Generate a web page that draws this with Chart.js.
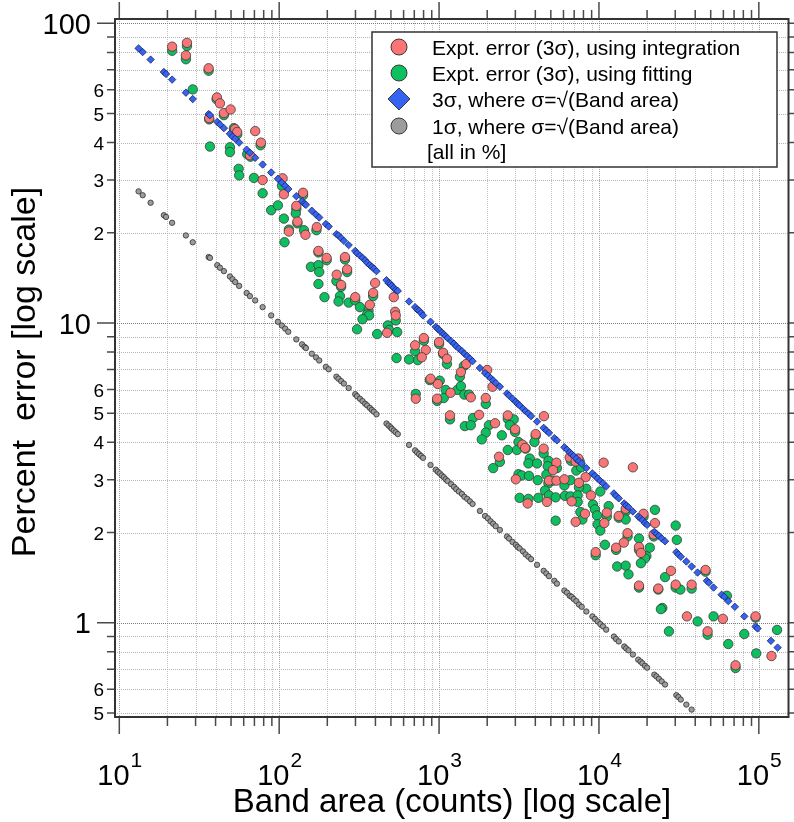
<!DOCTYPE html>
<html lang="en">
<head>
<meta charset="UTF-8">
<title>Percent error vs band area</title>
<script src="https://cdn.jsdelivr.net/npm/chart.js"></script>
<style>
    html, body { margin: 0; padding: 0; background: #fff; }
    #wrap { width: 794px; height: 822px; }
</style>
</head>
<body>
<div id="wrap"><canvas id="errChart" width="794" height="822"></canvas></div>
<script>
// band areas (counts) and the pure counting-statistics error at each one
const bandArea = [
    13.2, 14.0, 15.7, 19.0, 19.6, 21.4, 26.1, 28.8, 36.2, 36.9,
    41.0, 42.6, 45.1, 49.2, 51.1, 53.1, 56.2, 62.6, 65.6, 70.8,
    78.8, 89.1, 98.2, 104, 109, 114, 128, 139, 144, 147,
    160, 170, 178, 196, 204, 228, 235, 244, 254, 272,
    299, 307, 320, 332, 345, 355, 369, 380, 391, 406,
    469, 483, 497, 506, 521, 536, 552, 649, 708, 729,
    750, 772, 794, 884, 954, 981, 1010, 1040, 1070, 1100,
    1130, 1190, 1240, 1280, 1330, 1390, 1440, 1500, 1560, 1620,
    1800, 1940, 2020, 2100, 2180, 2260, 2400, 2660, 2740, 2880,
    3020, 3100, 3190, 3350, 3480, 3620, 3760, 4100, 4510, 4690,
    4870, 5260, 5460, 6080, 6310, 6560, 6750, 6950, 7220, 7500,
    7800, 8340, 9100, 9440, 9820, 10200, 10600, 11100, 12400, 12800,
    13300, 14400, 14800, 15300, 16300, 17600, 18200, 18700, 19400, 20000,
    22200, 22900, 23700, 24700, 25900, 30500, 31400, 32500, 35200, 38000,
    41400, 47300, 48700, 52100, 58500, 60800, 64400, 70800, 81100, 95400,
    98200, 119000, 131000
];
const sigma3Pct = [
    82.5, 80.2, 75.7, 68.8, 67.8, 64.9, 58.7, 55.9, 49.8, 49.4,
    46.9, 46.0, 44.7, 42.8, 41.9, 41.2, 40.0, 37.9, 37.0, 35.6,
    33.8, 31.8, 30.3, 29.4, 28.7, 28.0, 26.5, 25.5, 25.0, 24.8,
    23.7, 23.0, 22.5, 21.4, 21.0, 19.8, 19.6, 19.2, 18.8, 18.2,
    17.4, 17.1, 16.8, 16.5, 16.2, 15.9, 15.6, 15.4, 15.2, 14.9,
    13.9, 13.6, 13.5, 13.3, 13.1, 12.9, 12.8, 11.8, 11.3, 11.1,
    11.0, 10.8, 10.6, 10.1, 9.71, 9.57, 9.44, 9.30, 9.17, 9.04,
    8.91, 8.70, 8.53, 8.37, 8.22, 8.06, 7.90, 7.76, 7.61, 7.46,
    7.08, 6.81, 6.68, 6.55, 6.43, 6.31, 6.13, 5.82, 5.73, 5.59,
    5.46, 5.38, 5.31, 5.18, 5.08, 4.99, 4.89, 4.69, 4.47, 4.38,
    4.30, 4.13, 4.06, 3.85, 3.78, 3.70, 3.65, 3.60, 3.53, 3.46,
    3.40, 3.28, 3.15, 3.09, 3.03, 2.97, 2.92, 2.85, 2.70, 2.65,
    2.60, 2.50, 2.46, 2.43, 2.35, 2.26, 2.23, 2.20, 2.15, 2.12,
    2.01, 1.98, 1.95, 1.91, 1.87, 1.72, 1.69, 1.66, 1.60, 1.54,
    1.47, 1.38, 1.36, 1.31, 1.24, 1.22, 1.18, 1.13, 1.05, 0.971,
    0.957, 0.870, 0.826
];
const sigma1Pct = [
    27.5, 26.7, 25.2, 22.9, 22.6, 21.6, 19.6, 18.6, 16.6, 16.5,
    15.6, 15.3, 14.9, 14.3, 14.0, 13.7, 13.3, 12.6, 12.3, 11.9,
    11.3, 10.6, 10.1, 9.81, 9.58, 9.35, 8.82, 8.49, 8.33, 8.25,
    7.90, 7.68, 7.50, 7.14, 7.01, 6.62, 6.52, 6.40, 6.28, 6.07,
    5.79, 5.70, 5.59, 5.49, 5.38, 5.31, 5.21, 5.13, 5.06, 4.96,
    4.62, 4.55, 4.49, 4.44, 4.38, 4.32, 4.26, 3.92, 3.76, 3.70,
    3.65, 3.60, 3.55, 3.36, 3.24, 3.19, 3.15, 3.10, 3.06, 3.01,
    2.97, 2.90, 2.84, 2.79, 2.74, 2.69, 2.63, 2.59, 2.54, 2.49,
    2.36, 2.27, 2.23, 2.18, 2.14, 2.10, 2.04, 1.94, 1.91, 1.86,
    1.82, 1.79, 1.77, 1.73, 1.69, 1.66, 1.63, 1.56, 1.49, 1.46,
    1.43, 1.38, 1.35, 1.28, 1.26, 1.23, 1.22, 1.20, 1.18, 1.15,
    1.13, 1.09, 1.05, 1.03, 1.01, 0.990, 0.972, 0.948, 0.899, 0.882,
    0.866, 0.833, 0.821, 0.809, 0.783, 0.753, 0.742, 0.732, 0.718, 0.708,
    0.671, 0.662, 0.650, 0.637, 0.622, 0.573, 0.565, 0.554, 0.533, 0.513,
    null, null, null, null, null, null, null, null, null, null,
    null, null, null
];

// measured 3-sigma errors, peak integration
const integArea = [
    21.4, 26.5, 26.1, 36.2, 40.8, 42.6, 45.1, 49.7, 36.5, 52.9,
    54.6, 70.8, 76.9, 65.6, 78.8, 105, 107, 141, 128, 130,
    115, 146, 172, 176, 198, 258, 266, 229, 244, 299,
    369, 387, 398, 521, 531, 536, 473, 803, 1000, 708,
    826, 780, 1060, 1120, 982, 715, 1480, 1370, 884, 972,
    1180, 1580, 2000, 2160, 1960, 1170, 1780, 2240, 2690, 2990,
    4530, 4020, 3320, 3450, 4510, 2370, 5420, 5160, 3020, 4870,
    5420, 6080, 6560, 7150, 7430, 8260, 7500, 3580, 4730, 6750,
    8910, 10700, 16300, 11200, 8180, 7150, 10800, 13300, 14700, 19000,
    15100, 14300, 12800, 9540, 17800, 18300, 22000, 28200, 17800, 23500,
    30200, 22400, 46400, 38000, 35500, 59600, 95400, 47800, 120000, 71500
];
const integPct = [
    83.6, 86.1, 78.2, 70.8, 56.6, 54.1, 50.2, 51.6, 48.3, 44.4,
    43.4, 43.7, 40.0, 36.3, 30.0, 30.4, 26.9, 27.2, 24.6, 21.8,
    20.2, 19.7, 20.9, 17.4, 16.5, 16.6, 15.1, 14.5, 13.4, 12.2,
    11.5, 12.6, 13.6, 12.2, 10.9, 10.6, 9.28, 8.91, 8.64, 8.43,
    8.13, 7.69, 7.96, 7.60, 6.26, 5.59, 7.30, 6.86, 6.52, 5.59,
    5.85, 5.65, 6.97, 6.13, 5.62, 4.92, 4.94, 4.63, 4.92, 4.42,
    4.89, 4.26, 3.93, 3.83, 3.81, 3.58, 3.42, 3.23, 3.01, 2.98,
    2.98, 3.01, 3.56, 3.45, 3.53, 3.06, 2.93, 2.50, 2.53, 2.54,
    2.66, 3.42, 3.30, 2.33, 2.31, 2.17, 2.15, 2.27, 2.40, 2.31,
    1.99, 1.85, 1.78, 1.72, 1.79, 1.71, 1.97, 1.49, 1.33, 1.30,
    1.34, 2.15, 1.50, 1.34, 1.05, 1.03, 1.05, 0.936, 0.774, 0.721
];

// measured 3-sigma errors, peak fitting
const fitArea = [
    21.4, 26.5, 26.1, 28.8, 36.2, 36.5, 36.9, 40.6, 45.1, 49.2,
    49.2, 55.8, 56.2, 52.1, 54.6, 63.1, 66.2, 69.5, 76.5, 78.8,
    89.1, 98.2, 104, 107, 108, 115, 128, 127, 130, 141,
    143, 171, 176, 198, 158, 176, 178, 176, 258, 266,
    228, 244, 192, 240, 235, 272, 299, 320, 362, 355,
    365, 332, 387, 307, 410, 536, 478, 487, 547, 803,
    1000, 542, 1060, 875, 1010, 1100, 715, 708, 736, 649,
    1120, 1430, 1350, 972, 1070, 1300, 1370, 1440, 1540, 1960,
    1170, 1630, 1450, 1580, 2050, 1960, 1850, 2470, 2690, 2930,
    2770, 2990, 4020, 3950, 3140, 3070, 3480, 4510, 2690, 2400,
    2180, 3690, 3620, 4100, 4830, 4780, 5460, 3140, 3290, 3650,
    4140, 4830, 4600, 4870, 3190, 3620, 4180, 4690, 5160, 6080,
    6630, 6680, 7220, 7580, 7720, 8340, 7500, 5360, 6130, 6630,
    7360, 7360, 9170, 9440, 10200, 11500, 11200, 7650, 7880, 9720,
    9810, 5360, 10200, 13300, 14700, 14700, 19000, 22400, 15100, 10900,
    12800, 9540, 17800, 17800, 19800, 19400, 18300, 20800, 22000, 30200,
    30700, 25900, 13000, 14700, 15300, 17800, 23500, 30200, 24900, 46400,
    32300, 38000, 24400, 63100, 41400, 52100, 95400, 27400, 47800, 81100,
    130000, 64400, 96300, 71500
];
const fitPct = [
    81.0, 84.0, 75.9, 60.2, 69.5, 47.8, 38.8, 55.8, 49.4, 38.6,
    37.2, 32.7, 31.1, 44.7, 42.6, 36.6, 35.9, 30.5, 39.2, 27.1,
    23.8, 24.7, 28.7, 22.3, 18.6, 20.5, 24.0, 23.2, 21.5, 26.7,
    20.4, 20.4, 17.2, 16.2, 15.4, 15.6, 14.8, 13.5, 16.3, 14.8,
    13.8, 13.2, 12.2, 12.3, 11.8, 11.7, 11.9, 11.3, 11.0, 10.7,
    10.6, 10.3, 12.3, 9.53, 9.19, 10.2, 9.82, 9.48, 9.33, 8.73,
    8.51, 7.64, 7.88, 6.45, 6.42, 5.98, 5.80, 8.05, 7.52, 7.56,
    7.30, 7.19, 6.62, 5.50, 5.62, 5.98, 6.16, 5.77, 5.77, 5.37,
    4.77, 4.82, 4.53, 4.56, 4.56, 4.31, 4.09, 4.22, 4.79, 4.77,
    4.56, 4.33, 4.20, 4.01, 4.01, 3.77, 3.81, 3.67, 3.77, 3.44,
    3.28, 3.53, 3.40, 3.40, 3.47, 3.33, 3.28, 3.13, 3.10, 3.09,
    2.99, 2.92, 2.76, 2.66, 2.61, 2.59, 2.61, 3.12, 2.98, 2.87,
    2.99, 3.47, 3.22, 3.45, 3.30, 2.80, 2.83, 2.62, 2.65, 2.64,
    2.66, 2.53, 2.48, 2.39, 2.74, 2.45, 2.26, 2.34, 2.21, 2.28,
    2.13, 2.19, 2.03, 2.24, 2.35, 2.21, 2.26, 2.38, 1.94, 1.82,
    1.75, 1.68, 1.91, 1.75, 1.67, 1.64, 1.58, 1.78, 1.94, 2.11,
    1.89, 1.42, 1.54, 1.55, 1.45, 1.31, 1.29, 1.31, 1.12, 1.48,
    1.29, 1.30, 1.11, 1.23, 1.01, 1.05, 1.04, 0.936, 0.912, 0.917,
    0.946, 0.849, 0.790, 0.706
];

// axis text
const xExponents = ['1', '2', '3', '4', '5'];
const yMinorLabels = [2, 3, 4, 5, 6];
const legendLabels = [
    'Expt. error (3\u03c3), using integration',
    'Expt. error (3\u03c3), using fitting',
    '3\u03c3, where \u03c3=\u221a(Band area)',
    '1\u03c3, where \u03c3=\u221a(Band area)'
];
const legendNote = '[all in %]';

const FONT = '"Liberation Sans", Arial, Helvetica, sans-serif';
const COLORS = {
    integ: '#fa7676',
    fit: '#0cc060',
    sig3: '#3563f2',
    sig1: '#9c9c9c',
    edge: '#3a3a3a'
};

function toPoints(xs, ys) {
    const pts = [];
    xs.forEach((x, i) => {
        if (ys[i] !== null) pts.push({ x: x, y: ys[i] });
    });
    return pts;
}

// 1..9 x 10^n values that fall inside a scale
function logSteps(scale) {
    const out = [];
    for (let e = -2; e <= 6; e++) {
        for (let m = 1; m <= 9; m++) {
            const v = m * Math.pow(10, e);
            if (v >= scale.min && v <= scale.max) out.push({ v: v, m: m, e: e });
        }
    }
    return out;
}

const axesPlugin = {
    id: 'axesPlugin',
    beforeDatasetsDraw(chart) {
        const { ctx, chartArea: a, scales: { x, y } } = chart;
        ctx.save();
        ctx.lineWidth = 1;
        ctx.setLineDash([1, 1]);
        logSteps(x).forEach(t => {
            const px = Math.round(x.getPixelForValue(t.v)) + 0.5;
            if (px < a.left + 2 || px > a.right - 2) return;
            ctx.strokeStyle = t.m === 1 ? '#a0a0a0' : '#c2c2c2';
            ctx.beginPath();
            ctx.moveTo(px, a.top);
            ctx.lineTo(px, a.bottom);
            ctx.stroke();
        });
        logSteps(y).forEach(t => {
            const py = Math.round(y.getPixelForValue(t.v)) + 0.5;
            if (py < a.top + 2 || py > a.bottom - 2) return;
            ctx.strokeStyle = t.m === 1 ? '#7a7a7a' : '#b4b4b4';
            ctx.beginPath();
            ctx.moveTo(a.left, py);
            ctx.lineTo(a.right, py);
            ctx.stroke();
        });
        ctx.restore();
    },
    afterDatasetsDraw(chart) {
        const { ctx, chartArea: a, scales: { x, y } } = chart;
        ctx.save();

        // outward ticks on all four sides
        ctx.strokeStyle = '#4a4a4a';
        ctx.lineWidth = 1.5;
        logSteps(x).forEach(t => {
            const px = x.getPixelForValue(t.v);
            const len = t.m === 1 ? 17 : 9;
            ctx.beginPath();
            ctx.moveTo(px, a.bottom);
            ctx.lineTo(px, a.bottom + len);
            ctx.moveTo(px, a.top);
            ctx.lineTo(px, a.top - len);
            ctx.stroke();
        });
        logSteps(y).forEach(t => {
            const py = y.getPixelForValue(t.v);
            const len = t.m === 1 ? 18 : 8;
            ctx.beginPath();
            ctx.moveTo(a.left, py);
            ctx.lineTo(a.left - len, py);
            ctx.moveTo(a.right, py);
            ctx.lineTo(a.right + len, py);
            ctx.stroke();
        });

        // frame
        ctx.strokeStyle = '#333';
        ctx.lineWidth = 2;
        ctx.strokeRect(a.left, a.top, a.right - a.left, a.bottom - a.top);
        ctx.restore();
    },
    afterDraw(chart) {
        const { ctx, scales: { x, y } } = chart;
        ctx.save();
        ctx.fillStyle = '#000';
        ctx.textBaseline = 'alphabetic';

        // y tick labels
        ctx.textAlign = 'right';
        logSteps(y).forEach(t => {
            const py = y.getPixelForValue(t.v);
            if (t.m === 1) {
                ctx.font = '29px ' + FONT;
                ctx.fillText(String(t.v), 91, py + 10.5);
            } else if (yMinorLabels.includes(t.m)) {
                ctx.font = '19px ' + FONT;
                ctx.fillText(String(t.m), 104, py + 7);
            }
        });

        // x tick labels, 10 with superscript exponent
        ctx.textAlign = 'left';
        xExponents.forEach(ex => {
            const px = x.getPixelForValue(Math.pow(10, Number(ex)));
            ctx.font = '29px ' + FONT;
            const wBase = ctx.measureText('10').width;
            ctx.font = '21px ' + FONT;
            const wExp = ctx.measureText(ex).width;
            const start = px - (wBase + wExp) / 2;
            ctx.font = '29px ' + FONT;
            ctx.fillText('10', start, 785);
            ctx.font = '21px ' + FONT;
            ctx.fillText(ex, start + wBase + 1, 767);
        });

        // axis titles
        ctx.textAlign = 'center';
        ctx.font = '33px ' + FONT;
        ctx.fillText('Band area (counts) [log scale]', 452, 812);
        ctx.save();
        ctx.translate(35, 372);
        ctx.rotate(-Math.PI / 2);
        ctx.font = '34px ' + FONT;
        ctx.fillText('Percent  error [log scale]', 0, 0);
        ctx.restore();

        // legend box
        const box = { left: 372, top: 32, right: 777, bottom: 167 };
        ctx.fillStyle = '#fff';
        ctx.fillRect(box.left, box.top, box.right - box.left, box.bottom - box.top);
        ctx.strokeStyle = '#333';
        ctx.lineWidth = 1.5;
        ctx.strokeRect(box.left, box.top, box.right - box.left, box.bottom - box.top);

        const rows = [47, 73, 99, 126];
        const fills = [COLORS.integ, COLORS.fit, COLORS.sig3, COLORS.sig1];
        const mx = 399;
        rows.forEach((ry, i) => {
            ctx.beginPath();
            if (i === 2) {
                ctx.moveTo(mx, ry - 11);
                ctx.lineTo(mx + 11, ry);
                ctx.lineTo(mx, ry + 11);
                ctx.lineTo(mx - 11, ry);
                ctx.closePath();
            } else {
                ctx.arc(mx, ry, 8, 0, Math.PI * 2);
            }
            ctx.fillStyle = fills[i];
            ctx.fill();
            ctx.strokeStyle = COLORS.edge;
            ctx.lineWidth = 1;
            ctx.stroke();

            ctx.fillStyle = '#000';
            ctx.textAlign = 'left';
            ctx.font = '21px ' + FONT;
            ctx.fillText(legendLabels[i], 432, ry + 7.5);
        });
        ctx.fillText(legendNote, 427, 158.5);
        ctx.restore();
    }
};

const chart = new Chart(document.getElementById('errChart'), {
    type: 'scatter',
    data: {
        datasets: [
            {
                label: legendLabels[0],
                data: toPoints(integArea, integPct),
                pointStyle: 'circle',
                pointRadius: 4.7,
                backgroundColor: COLORS.integ,
                borderColor: COLORS.edge,
                borderWidth: 0.8,
                order: 1
            },
            {
                label: legendLabels[1],
                data: toPoints(fitArea, fitPct),
                pointStyle: 'circle',
                pointRadius: 4.7,
                backgroundColor: COLORS.fit,
                borderColor: COLORS.edge,
                borderWidth: 0.8,
                order: 2
            },
            {
                label: legendLabels[2],
                data: toPoints(bandArea, sigma3Pct),
                pointStyle: 'rectRot',
                pointRadius: 3.7,
                backgroundColor: COLORS.sig3,
                borderColor: '#1b2560',
                borderWidth: 0.8,
                order: 0
            },
            {
                label: legendLabels[3],
                data: toPoints(bandArea, sigma1Pct),
                pointStyle: 'circle',
                pointRadius: 2.7,
                backgroundColor: COLORS.sig1,
                borderColor: '#303030',
                borderWidth: 0.8,
                order: 3
            }
        ]
    },
    options: {
        responsive: false,
        animation: false,
        events: [],
        layout: { padding: { left: 115, right: 5, top: 19, bottom: 105 } },
        plugins: {
            legend: { display: false },
            tooltip: { enabled: false }
        },
        scales: {
            x: { type: 'logarithmic', min: 9.4, max: 153300, display: false },
            y: { type: 'logarithmic', min: 0.4846, max: 103.4, display: false }
        }
    },
    plugins: [axesPlugin]
});
</script>
</body>
</html>
